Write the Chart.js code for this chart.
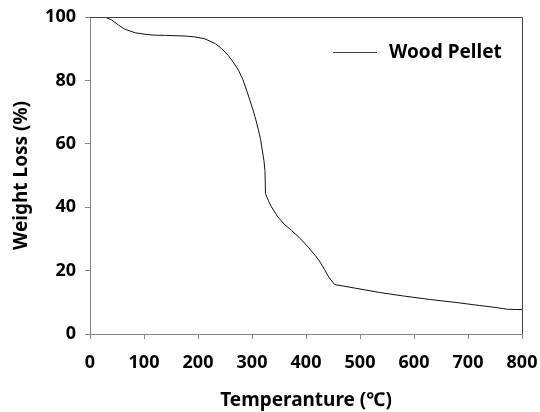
<!DOCTYPE html>
<html>
<head>
<meta charset="utf-8">
<script src="https://cdn.jsdelivr.net/npm/chart.js@4/dist/chart.umd.min.js"></script>
<style>
  html, body { margin: 0; padding: 0; background: #fff; }
  #wrap { width: 540px; height: 412px; }
</style>
</head>
<body>
<div id="wrap"><canvas id="c" width="540" height="412"></canvas></div>
<script>
// Data
const temperature = [20, 30, 40, 53, 65, 84, 100, 115, 140, 176, 195, 213, 232, 244, 256, 265, 275, 283, 290, 296, 302, 307, 312, 316, 319, 322, 324, 325, 330, 336, 348, 360, 373, 390, 404, 418, 426, 434, 442, 453, 500, 536, 580, 629, 680, 721, 750, 773, 800];
const weightLoss  = [100, 99.8, 99.1, 97.4, 96.1, 95.0, 94.6, 94.3, 94.2, 94.0, 93.7, 93.1, 91.6, 90.0, 87.9, 85.8, 83.2, 80.3, 76.9, 73.8, 70.6, 67.6, 64.3, 61.3, 58.0, 54.8, 51.6, 44.3, 42.2, 40.1, 36.9, 34.6, 32.7, 30.0, 27.4, 24.6, 22.7, 20.4, 18.0, 15.6, 14.2, 13.1, 12.0, 10.9, 9.9, 9.0, 8.4, 7.8, 7.7];
const seriesName = 'Wood Pellet';
const xTitle = 'Temperanture (℃)';
const yTitle = 'Weight Loss (%)';
const xTicks = [0, 100, 200, 300, 400, 500, 600, 700, 800];
const yTicks = [0, 20, 40, 60, 80, 100];

const FONT = "'Noto Sans', 'Noto Sans CJK KR', sans-serif";
Chart.defaults.color = '#000';
Chart.defaults.font.family = FONT;

const points = temperature.map((t, i) => ({ x: t, y: weightLoss[i] }));

const framePlugin = {
  id: 'frame',
  afterDraw(chart) {
    const { ctx, chartArea: a } = chart;
    ctx.save();
    ctx.strokeStyle = '#404040';
    ctx.lineWidth = 1;
    ctx.beginPath();
    ctx.moveTo(a.left, a.top + 0.5);
    ctx.lineTo(a.right + 0.5, a.top + 0.5);
    ctx.lineTo(a.right + 0.5, a.bottom);
    ctx.stroke();
    // legend inside plot
    const ds = chart.data.datasets[0];
    const ly = 52.5;
    ctx.strokeStyle = '#404040';
    ctx.beginPath();
    ctx.moveTo(333, ly);
    ctx.lineTo(377, ly);
    ctx.stroke();
    ctx.fillStyle = '#000';
    ctx.font = "bold 19px " + FONT;
    ctx.textBaseline = 'middle';
    ctx.textAlign = 'left';
    ctx.fillText(ds.label, 389, ly);
    ctx.restore();
  }
};

new Chart(document.getElementById('c'), {
  type: 'line',
  data: {
    datasets: [{
      label: seriesName,
      data: points,
      borderColor: '#111',
      borderWidth: 1,
      pointRadius: 0,
      fill: false,
      tension: 0
    }]
  },
  options: {
    responsive: false,
    animation: false,
    layout: { padding: { left: 0, right: 18, top: 17, bottom: 0 } },
    plugins: { legend: { display: false }, tooltip: { enabled: false } },
    scales: {
      x: {
        type: 'linear',
        min: 0, max: 800,
        afterBuildTicks(scale) { scale.ticks = xTicks.map(v => ({ value: v })); },
        afterFit(scale) { scale.height = 78; scale.paddingLeft = 0; scale.paddingRight = 0; },
        border: { color: '#868686', width: 1 },
        grid: { drawOnChartArea: false, drawTicks: true, tickLength: 5, color: '#868686' },
        ticks: { padding: 13, font: { size: 18, weight: 'bold' }, color: '#000', maxRotation: 0 },
        title: { display: true, text: xTitle, font: { size: 19, weight: 'bold' }, color: '#000', padding: { top: 0, bottom: 0 } }
      },
      y: {
        min: 0, max: 100,
        afterBuildTicks(scale) { scale.ticks = yTicks.map(v => ({ value: v })); },
        afterFit(scale) { scale.width = 90; scale.paddingTop = 0; scale.paddingBottom = 0; },
        border: { color: '#868686', width: 1 },
        grid: { drawOnChartArea: false, drawTicks: true, tickLength: 5, color: '#868686' },
        ticks: { padding: 9, font: { size: 18, weight: 'bold' }, color: '#000' },
        title: { display: true, text: yTitle, font: { size: 19, weight: 'bold' }, color: '#000', padding: { top: 10, bottom: 0 } }
      }
    }
  },
  plugins: [framePlugin]
});
</script>
</body>
</html>
